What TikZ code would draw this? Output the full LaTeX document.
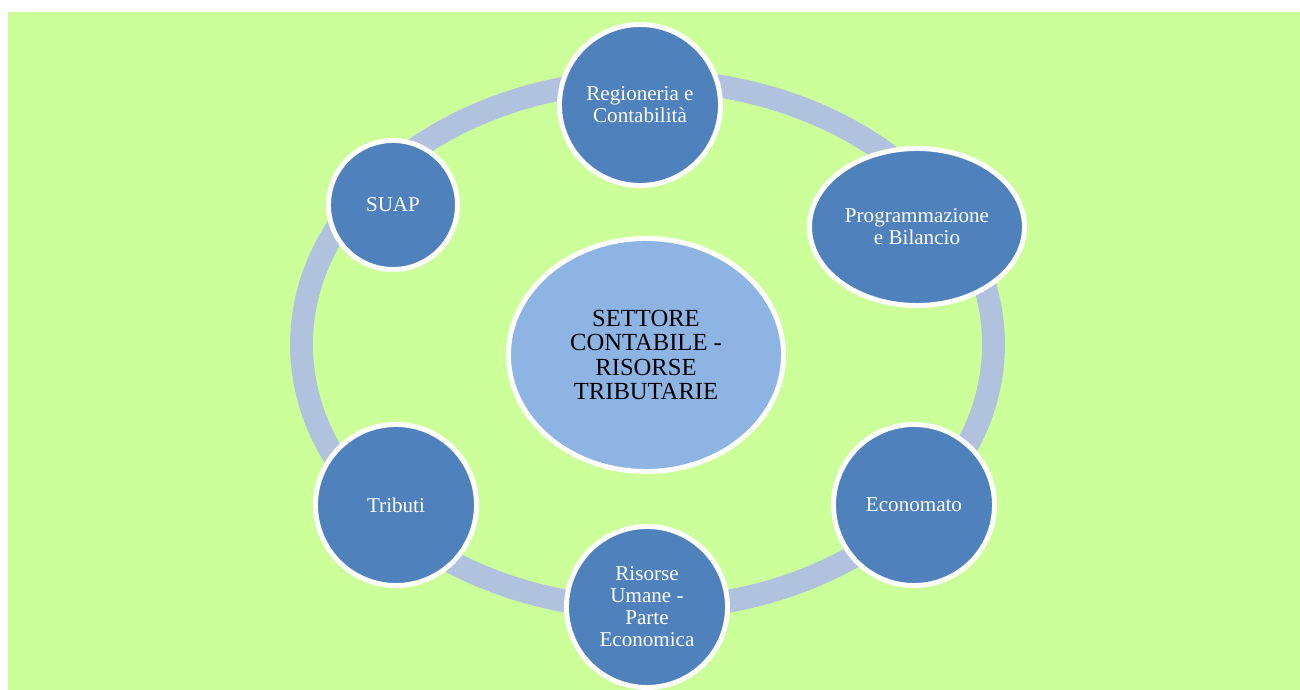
\documentclass[tikz,border=0pt]{standalone}
\usepackage{fontspec}
\setmainfont{Liberation Serif}

\definecolor{bggreen}{RGB}{204,255,153}
\definecolor{ringblue}{RGB}{176,194,222}
\definecolor{itemblue}{RGB}{79,129,189}
\definecolor{hubblue}{RGB}{142,180,227}

\tikzset{
	item/.style={circle, fill=itemblue, draw=white, line width=2.8pt,
		minimum size=3.22cm, inner sep=0pt, align=center, text=white,
		font=\fontsize{12}{12.5}\selectfont},
	hub/.style={ellipse, fill=hubblue, draw=white, line width=2.8pt,
		minimum width=5.5cm, minimum height=4.66cm, inner sep=0pt,
		align=center, text=black, font=\fontsize{14}{14}\selectfont}
}

\usetikzlibrary{shapes.geometric}

\begin{document}
\begin{tikzpicture}

	\useasboundingbox (0, 0) rectangle (26, 13.8);
	\fill[bggreen] (0.16, 0) rectangle (26, 13.56);

	\coordinate (R) at (12.95, 6.91);

	% ring behind the nodes
	\draw[ringblue, line width=13pt] (R) ellipse (6.92 and 5.28);

	\node[hub] (settore) at (12.92, 6.70) {SETTORE\\CONTABILE -\\RISORSE\\TRIBUTARIE};

	\node[item] (regioneria) at (12.80, 11.70) {Regioneria e\\Contabilità};
	\node[item, ellipse, minimum width=4.3cm, minimum height=3.14cm] (programmazione)
		at (18.34, 9.26) {Programmazione\\e Bilancio};
	\node[item] (economato) at (18.28, 3.70) {Economato};
	\node[item] (risorse) at (12.94, 1.66) {Risorse\\Umane -\\Parte\\Economica};
	\node[item] (tributi) at (7.92, 3.70) {Tributi};
	\node[item, minimum size=2.58cm] (suap) at (7.86, 9.70) {SUAP};

\end{tikzpicture}
\end{document}
